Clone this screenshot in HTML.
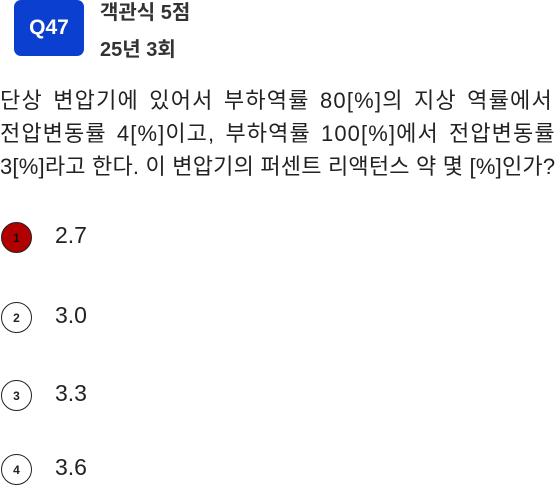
<!DOCTYPE html>
<html><head><meta charset="utf-8"><style>
body{margin:0;width:560px;height:489px;background:#fff;position:relative;overflow:hidden;font-family:"Liberation Sans","Noto Sans CJK KR",sans-serif;color:#222}
.badge{position:absolute;left:14px;top:0;width:70px;height:56px;background:#0a3fd0;border-radius:7px;color:#fff;font-weight:bold;font-size:21px;display:flex;align-items:center;justify-content:center}
.h{position:absolute;left:100px;font-size:20px;font-weight:bold;color:#333}
.q{position:absolute;left:0;font-size:22px;line-height:33px;white-space:nowrap}
.opt{position:absolute;left:1px;width:31px;height:31px;border:1.5px solid #222;border-radius:50%;box-sizing:border-box;font-size:12px;display:flex;align-items:center;justify-content:center;font-weight:bold}
.ot{position:absolute;left:55px;font-size:23px}
</style></head><body>
<div class="badge">Q47</div>
<div class="h" style="top:-4px">객관식 5점</div>
<div class="h" style="top:33px">25년 3회</div>
<div class="q" style="top:84px;letter-spacing:1.2px;word-spacing:3px">단상 변압기에 있어서 부하역률 80[%]의 지상 역률에서</div>
<div class="q" style="top:117px;letter-spacing:1.1px;word-spacing:3px">전압변동률 4[%]이고, 부하역률 100[%]에서 전압변동률</div>
<div class="q" style="top:150px;letter-spacing:0.2px;word-spacing:0px">3[%]라고 한다. 이 변압기의 퍼센트 리액턴스 약 몇 [%]인가?</div>
<div class="opt" style="top:222px;background:#b00000;color:#111">1</div>
<div class="ot" style="top:222px">2.7</div>
<div class="opt" style="top:302px">2</div>
<div class="ot" style="top:302px">3.0</div>
<div class="opt" style="top:380px">3</div>
<div class="ot" style="top:380px">3.3</div>
<div class="opt" style="top:454px">4</div>
<div class="ot" style="top:454px">3.6</div>
</body></html>
